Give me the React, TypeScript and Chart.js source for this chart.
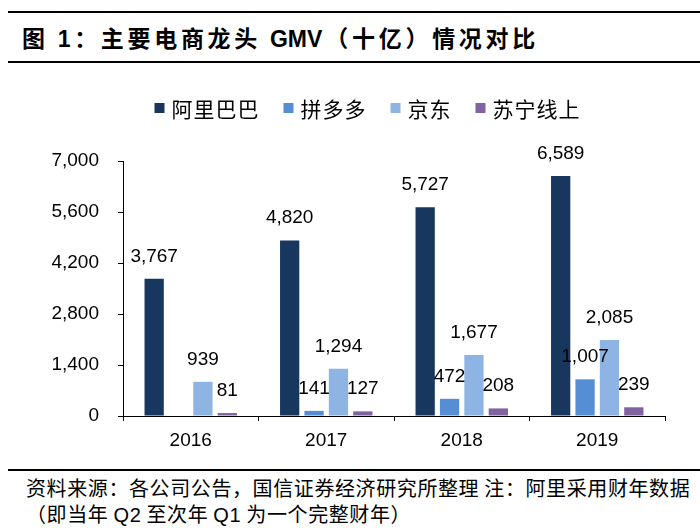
import React, { useEffect, useRef } from "react";
import { Chart, registerables } from "chart.js";

Chart.register(...registerables);

const years = ["2016", "2017", "2018", "2019"];
const seriesNames = ["阿里巴巴", "拼多多", "京东", "苏宁线上"];
const alibaba = [3767, 4820, 5727, 6589];
const pdd = [null, 141, 472, 1007];
const jd = [939, 1294, 1677, 2085];
const suning = [81, 127, 208, 239];
const colors = ["#17375E", "#558ED5", "#8EB4E3", "#8064A2"];
const yMax = 7000;
const yStep = 1400;

const NUM_FONT = "'Liberation Sans', Arial, sans-serif";
const CJK_FONT = "'Noto Sans CJK SC', 'Liberation Sans', sans-serif";

const fmt = (v: number) => v.toLocaleString("en-US");

const CANVAS_LEFT = 34;
const CANVAS_TOP = 70;
const CANVAS_W = 700 - CANVAS_LEFT;
const CANVAS_H = 398;

const legendPlugin = {
  id: "customLegend",
  afterDraw(chart: any) {
    const ctx = chart.ctx;
    const ds = chart.data.datasets;
    ctx.save();
    ctx.font = `21px ${CJK_FONT}`;
    try {
      (ctx as any).letterSpacing = "1px";
    } catch (e) {}
    const box = 10;
    const gapText = 7;
    const gapItem = 24;
    const widths = ds.map((d: any) => box + gapText + ctx.measureText(d.label).width);
    const total = widths.reduce((a: number, b: number) => a + b, 0) + gapItem * (ds.length - 1);
    const cx = 367.5 - CANVAS_LEFT;
    const cy = 108 - CANVAS_TOP;
    let x = cx - total / 2;
    ds.forEach((d: any, i: number) => {
      ctx.fillStyle = d.backgroundColor;
      ctx.fillRect(x, cy - box / 2, box, box);
      ctx.fillStyle = "#000";
      ctx.textBaseline = "middle";
      ctx.textAlign = "left";
      ctx.fillText(d.label, x + box + gapText, cy + 1);
      x += widths[i] + gapItem;
    });
    ctx.restore();
  },
};

const labelPlugin = {
  id: "barLabels",
  afterDatasetsDraw(chart: any) {
    const ctx = chart.ctx;
    ctx.save();
    ctx.font = `19px ${NUM_FONT}`;
    ctx.fillStyle = "#000";
    ctx.textAlign = "center";
    ctx.textBaseline = "alphabetic";
    chart.data.datasets.forEach((d: any, di: number) => {
      const meta = chart.getDatasetMeta(di);
      meta.data.forEach((el: any, i: number) => {
        const v = d.data[i];
        if (v === null || v === undefined) return;
        ctx.fillText(fmt(v), el.x, el.y - 17);
      });
    });
    ctx.restore();
  },
};

export default function App() {
  const ref = useRef<HTMLCanvasElement>(null);

  useEffect(() => {
    if (!ref.current) return;
    const data = [alibaba, pdd, jd, suning];
    const chart = new Chart(ref.current, {
      type: "bar",
      data: {
        labels: years,
        datasets: seriesNames.map((n, i) => ({
          label: n,
          data: data[i] as any,
          backgroundColor: colors[i],
          borderWidth: 0,
          categoryPercentage: 0.72,
          barPercentage: 0.79,
        })),
      },
      options: {
        animation: false,
        responsive: false,
        maintainAspectRatio: false,
        layout: { padding: { top: 91, right: 35, left: 0, bottom: 0 } },
        plugins: {
          legend: { display: false },
          tooltip: { enabled: false },
        },
        scales: {
          x: {
            grid: {
              display: true,
              drawOnChartArea: false,
              drawTicks: true,
              tickLength: 5,
              color: "#000",
              offset: true,
            },
            border: { display: true, color: "#000", width: 1 },
            ticks: {
              color: "#000",
              font: { family: NUM_FONT, size: 19 },
              padding: 8,
            },
            afterFit: (s: any) => {
              s.height = 52;
            },
          },
          y: {
            min: 0,
            max: yMax,
            grid: {
              display: true,
              drawOnChartArea: false,
              drawTicks: true,
              tickLength: 5,
              color: "#000",
            },
            border: { display: true, color: "#000", width: 1 },
            ticks: {
              stepSize: yStep,
              color: "#000",
              font: { family: NUM_FONT, size: 19 },
              padding: 19,
              callback: (v: any) => fmt(Number(v)),
            },
            afterFit: (s: any) => {
              s.width = 123 - CANVAS_LEFT;
            },
          },
        },
      },
      plugins: [legendPlugin, labelPlugin],
    });
    return () => chart.destroy();
  }, []);

  return (
    <div
      style={{
        position: "absolute",
        left: 0,
        top: 0,
        width: 700,
        height: 531,
        background: "#fff",
        overflow: "hidden",
      }}
    >
      <div style={{ position: "absolute", left: 8, right: 0, top: 11, height: 2, background: "#000" }} />
      <div
        style={{
          position: "absolute",
          left: 22,
          top: 22,
          fontFamily: CJK_FONT,
          fontWeight: "bold",
          fontSize: 23,
          letterSpacing: "3.7px",
          lineHeight: "30px",
          color: "#000",
          whiteSpace: "nowrap",
        }}
      >
        图 <span style={{ fontFamily: NUM_FONT }}>1</span>：主要电商龙头&nbsp;
        <span style={{ fontFamily: NUM_FONT, letterSpacing: "0px", marginRight: 3 }}>GMV</span>（十亿）情况对比
      </div>
      <div style={{ position: "absolute", left: 8, right: 0, top: 61, height: 2, background: "#000" }} />
      <canvas
        ref={ref}
        width={CANVAS_W}
        height={CANVAS_H}
        style={{ position: "absolute", left: CANVAS_LEFT, top: CANVAS_TOP, width: CANVAS_W, height: CANVAS_H }}
      />
      <div style={{ position: "absolute", left: 8, right: 0, top: 469, height: 2, background: "#000" }} />
      <div
        style={{
          position: "absolute",
          left: 26,
          top: 475,
          fontFamily: CJK_FONT,
          fontSize: 20,
          letterSpacing: "0.6px",
          lineHeight: "26px",
          color: "#000",
          whiteSpace: "nowrap",
        }}
      >
        <div>资料来源：各公司公告，国信证券经济研究所整理 注：阿里采用财年数据</div>
        <div>
          （即当年 <span style={{ fontFamily: NUM_FONT }}>Q2</span> 至次年{" "}
          <span style={{ fontFamily: NUM_FONT }}>Q1</span> 为一个完整财年）
        </div>
      </div>
    </div>
  );
}
